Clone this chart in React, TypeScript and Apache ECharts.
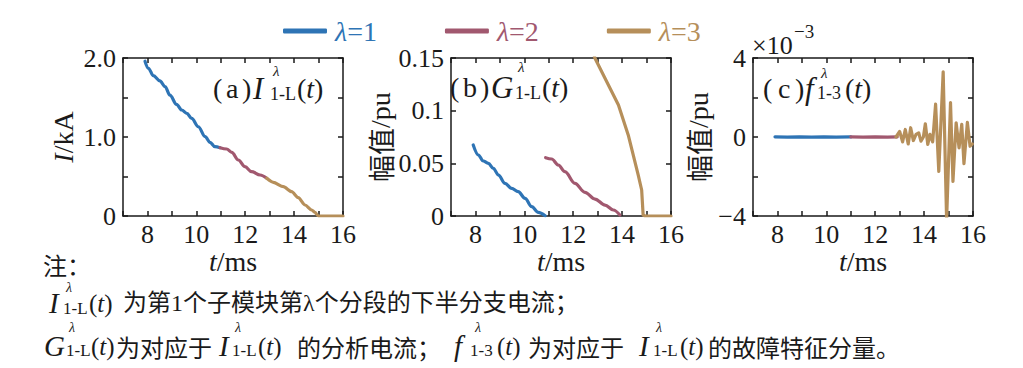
import React, { useEffect, useRef } from "react";
import * as echarts from "echarts";

const SERIF = "'Liberation Serif', 'Times New Roman', serif";
const MIXED = "'Liberation Serif', 'Noto Sans CJK SC', serif";
const CJK = "'Noto Sans CJK SC', 'Liberation Serif', sans-serif";
const INK = "#1a1a1a";

// ---- legend / series ----
const seriesNames = ["λ=1", "λ=2", "λ=3"];
const seriesColors = ["#2e74b5", "#a1586f", "#b68f5a"];

// ---- shared x axis (t / ms) ----
const xMin = 7;
const xMax = 16;
const xInterval = 1;
const xLabelValues = [8, 10, 12, 14, 16];

// ---- panel (a): I / kA ----
const aLambda1 = [
  [7.9, 1.96], [8.04, 1.87], [8.24, 1.776], [8.51, 1.71], [8.72, 1.637],
  [8.92, 1.53], [9.19, 1.414], [9.4, 1.342], [9.61, 1.3], [9.81, 1.235],
  [10.08, 1.13], [10.36, 1.004], [10.56, 0.932], [10.76, 0.877], [10.97, 0.865],
];
const aLambda2 = [
  [10.97, 0.865], [11.24, 0.848], [11.45, 0.806], [11.72, 0.709], [11.99, 0.624],
  [12.26, 0.561], [12.61, 0.519], [12.88, 0.477],
];
const aLambda3 = [
  [12.88, 0.477], [13.15, 0.426], [13.56, 0.371], [13.9, 0.308], [14.17, 0.232],
  [14.45, 0.139], [14.72, 0.076], [14.85, 0.046], [14.99, 0.0], [16, 0.0],
];
const aYTickLabels: [number, string][] = [[0, "0"], [1, "1.0"], [2, "2.0"]];

// ---- panel (b): amplitude / pu ----
const bLambda1 = [
  [7.91, 0.0674], [8.12, 0.0579], [8.32, 0.0522], [8.53, 0.05], [8.73, 0.0453],
  [8.94, 0.0389], [9.21, 0.031], [9.48, 0.0262], [9.75, 0.0231], [10.03, 0.0168],
  [10.3, 0.0089], [10.57, 0.0035], [10.85, 0.0003],
];
const bLambda2 = [
  [10.87, 0.0554], [11.12, 0.0541], [11.39, 0.0484], [11.66, 0.0421], [12.07, 0.031],
  [12.48, 0.0225], [12.89, 0.0161], [13.3, 0.0104], [13.64, 0.0057], [13.91, 0.0009],
];
const bLambda3 = [
  [12.82, 0.156], [12.89, 0.1497], [13.3, 0.1307], [13.85, 0.1054], [14.25, 0.077],
  [14.66, 0.0389], [14.8, 0.0247], [14.86, 0.0009], [14.94, 0.0], [16, 0.0],
];
const bYTickLabels: [number, string][] = [[0, "0"], [0.05, "0.05"], [0.1, "0.1"], [0.15, "0.15"]];

// ---- panel (c): amplitude / pu, values in units of 1e-3 ----
const cLambda1 = [
  [7.9, 0.01], [8.4, -0.005], [8.9, 0.01], [9.4, -0.005], [9.9, 0.01], [10.4, -0.005], [11.0, 0.005],
];
const cLambda2 = [
  [11.0, 0.005], [11.5, -0.01], [12.0, 0.01], [12.5, -0.005], [12.9, 0.01],
];
const cLambda3 = [
  [12.85, 0], [13.0, 0.28], [13.12, -0.25], [13.23, 0.38], [13.35, -0.35], [13.45, 0.47],
  [13.56, -0.18], [13.67, 0.13], [13.78, 0.21], [13.87, -0.21], [13.97, 0.0], [14.05, 0.67],
  [14.15, -0.38], [14.24, 0.13], [14.35, -0.25], [14.47, 1.66], [14.6, -1.74], [14.78, 3.3],
  [14.92, -4.2], [15.08, 1.74], [15.18, -2.25], [15.31, 0.72], [15.43, -0.55], [15.54, 0.64],
  [15.63, -1.35], [15.77, 0.74], [15.88, -0.47], [15.97, -0.35],
];
const cYTickLabels: [number, string][] = [[-4, "\u22124"], [0, "0"], [4, "4"]];

const panels = [
  {
    left: 123, yMin: 0, yMax: 2, yInterval: 0.5, yLabels: aYTickLabels,
    yName: "{i|I}{n|/kA}", yNameGap: 46, data: [aLambda1, aLambda2, aLambda3],
    smooth: [0.35, 0.35, 0.25],
  },
  {
    left: 451, yMin: 0, yMax: 0.15, yInterval: 0.05, yLabels: bYTickLabels,
    yName: "{c|幅值}{n|/pu}", yNameGap: 56, data: [bLambda1, bLambda2, bLambda3],
    smooth: [0.35, 0.35, 0],
  },
  {
    left: 753, yMin: -4, yMax: 4, yInterval: 2, yLabels: cYTickLabels,
    yName: "{c|幅值}{n|/pu}", yNameGap: 41, data: [cLambda1, cLambda2, cLambda3],
    smooth: [0, 0, 0],
  },
];

const GRID_TOP = 58;
const GRID_H = 158;
const GRID_W = 220;

const lookup = (pairs: [number, string][]) => (v: number) => {
  const hit = pairs.find((p) => Math.abs(p[0] - v) < 1e-9);
  return hit ? hit[1] : "";
};

const axisLineStyle = { color: INK, width: 1.5 };
const nameRich = {
  i: { fontFamily: SERIF, fontSize: 28, fontStyle: "italic", color: INK },
  n: { fontFamily: SERIF, fontSize: 28, color: INK },
  c: { fontFamily: CJK, fontSize: 27, color: INK },
};

const txt = (x: number, y: number, text: string, fs = 28, italic = false, family = SERIF) => ({
  type: "text",
  x,
  y,
  silent: true,
  style: {
    text,
    fontSize: fs,
    fontFamily: family,
    fontStyle: italic ? "italic" : "normal",
    fill: INK,
    align: "left",
    verticalAlign: "middle",
    textAlign: "left",
    textVerticalAlign: "middle",
  },
});

const paren = (x: number, y: number, fs = 28) => ({
  type: "text",
  x,
  y,
  silent: true,
  style: {
    text: "{n|(}{i|t}{n|)}",
    fill: INK,
    fontSize: fs,
    fontFamily: SERIF,
    align: "left",
    verticalAlign: "middle",
    textAlign: "left",
    textVerticalAlign: "middle",
    rich: {
      n: { fontSize: fs, fontFamily: SERIF, fill: INK, color: INK },
      i: { fontSize: fs, fontFamily: SERIF, fontStyle: "italic", fill: INK, color: INK },
    },
  },
});

// symbol like X^λ_{sub}(t)
const sym = (
  xb: number, xs: number, xsub: number, xp: number, y: number,
  base: string, sub: string, fs: number, fsP: number, fsSup: number, fsSub: number,
  dSup: number, dSub: number
) => [
  txt(xb, y, base, fs, true),
  txt(xs, y + dSup, "λ", fsSup, true),
  txt(xsub, y + dSub, sub, fsSub),
  paren(xp, y, fsP),
];

function buildOption() {
  const grid = panels.map((p) => ({ left: p.left, top: GRID_TOP, width: GRID_W, height: GRID_H }));
  const xAxis: any[] = [];
  const yAxis: any[] = [];
  panels.forEach((p, i) => {
    xAxis.push({
      type: "value", gridIndex: i, min: xMin, max: xMax, interval: xInterval, position: "bottom",
      axisLine: { show: true, onZero: false, lineStyle: axisLineStyle },
      axisTick: { show: true, inside: true, length: 5, lineStyle: axisLineStyle },
      axisLabel: {
        fontFamily: SERIF, fontSize: 26, color: INK, margin: 5,
        formatter: (v: number) => (xLabelValues.includes(v) ? String(v) : ""),
      },
      splitLine: { show: false },
      name: "{i|t}{n|/ms}", nameLocation: "middle", nameGap: 29,
      nameTextStyle: { rich: nameRich },
    });
    yAxis.push({
      type: "value", gridIndex: i, min: p.yMin, max: p.yMax, interval: p.yInterval, position: "left",
      axisLine: { show: true, onZero: false, lineStyle: axisLineStyle },
      axisTick: { show: true, inside: true, length: 5, lineStyle: axisLineStyle },
      axisLabel: {
        fontFamily: SERIF, fontSize: 26, color: INK, margin: 7,
        formatter: lookup(p.yLabels),
      },
      splitLine: { show: false },
      name: p.yName, nameLocation: "middle", nameGap: p.yNameGap, nameRotate: 90,
      nameTextStyle: { rich: nameRich },
    });
  });
  // mirrored frame axes (top / right)
  panels.forEach((p, i) => {
    xAxis.push({
      type: "value", gridIndex: i, min: xMin, max: xMax, interval: xInterval, position: "top",
      axisLine: { show: true, onZero: false, lineStyle: axisLineStyle },
      axisTick: { show: true, inside: true, length: 5, lineStyle: axisLineStyle },
      axisLabel: { show: false }, splitLine: { show: false },
    });
    yAxis.push({
      type: "value", gridIndex: i, min: p.yMin, max: p.yMax, interval: p.yInterval, position: "right",
      axisLine: { show: true, onZero: false, lineStyle: axisLineStyle },
      axisTick: { show: true, inside: true, length: 5, lineStyle: axisLineStyle },
      axisLabel: { show: false }, splitLine: { show: false },
    });
  });

  const series: any[] = [];
  panels.forEach((p, i) => {
    p.data.forEach((d, j) => {
      series.push({
        type: "line", name: seriesNames[j], xAxisIndex: i, yAxisIndex: i, data: d,
        color: seriesColors[j], symbol: "none", showSymbol: false,
        smooth: p.smooth[j] || false, smoothMonotone: "x", clip: true,
        lineStyle: { color: seriesColors[j], width: 3.2, cap: "round", join: "round" },
        z: 2 + j,
      });
    });
  });

  const legendRich: any = {};
  seriesColors.forEach((c, k) => {
    legendRich["l" + k] = { fontFamily: SERIF, fontSize: 28, fontStyle: "italic", color: c };
    legendRich["e" + k] = { fontFamily: SERIF, fontSize: 28, color: c };
  });

  const graphic: any[] = [
    // (a) annotation
    txt(213, 88, "(", 28), txt(226, 88, "a", 28), txt(242, 88, ")", 28),
    ...sym(253, 273, 270, 297, 88, "I", "1-L", 31, 28, 15, 18, -17, 6),
    // (b) annotation
    txt(450, 87, "(", 28), txt(463, 87, "b", 28), txt(480, 87, ")", 28),
    ...sym(491, 518, 515, 542, 87, "G", "1-L", 31, 28, 15, 18, -20, 6),
    // (c) annotation
    txt(763, 88, "(", 28), txt(778, 88, "c", 28), txt(795, 88, ")", 28),
    ...sym(805, 821, 817, 845, 88, "f", "1-3", 31, 28, 15, 18, -15, 5),
    // exponent of panel (c)
    txt(752, 45, "×10", 26), txt(794, 31, "\u22123", 19),
    // notes
    txt(43, 264, "注：", 24, false, CJK),
    ...sym(49, 66, 63, 89, 303, "I", "1-L", 29, 25, 14, 17, -16, 5),
    txt(123, 303, "为第1个子模块第λ个分段的下半分支电流；", 24, false, MIXED),
    ...sym(44, 69, 66, 91, 346, "G", "1-L", 29, 25, 14, 17, -19, 4),
    txt(116, 346, "为对应于", 24, false, CJK),
    ...sym(219, 235, 232, 258, 346, "I", "1-L", 29, 25, 14, 17, -19, 4),
    txt(297, 346, "的分析电流；", 24, false, CJK),
    ...sym(454, 475, 470, 497, 346, "f", "1-3", 29, 25, 14, 17, -19, 4),
    txt(528, 346, "为对应于", 24, false, CJK),
    ...sym(639, 656, 653, 680, 346, "I", "1-L", 29, 25, 14, 17, -19, 4),
    txt(708, 346, "的故障特征分量。", 24, false, CJK),
  ];

  return {
    animation: false,
    backgroundColor: "#ffffff",
    grid,
    xAxis,
    yAxis,
    series,
    legend: {
      left: 283, top: 17, padding: 0, itemWidth: 44, itemHeight: 5, icon: "roundRect", itemGap: 68,
      data: seriesNames.map((n, k) => ({ name: n, itemStyle: { color: seriesColors[k] } })),
      formatter: (name: string) => {
        const k = seriesNames.indexOf(name);
        return `{l${k}|λ}{e${k}|${name.slice(1)}}`;
      },
      textStyle: { fontFamily: SERIF, fontSize: 28, padding: [0, 0, 0, 3], rich: legendRich },
    },
    graphic,
  };
}

export default function App() {
  const ref = useRef<HTMLDivElement>(null);
  useEffect(() => {
    if (!ref.current) return;
    const chart = echarts.init(ref.current, undefined, { renderer: "svg" });
    chart.setOption(buildOption() as any);
    return () => chart.dispose();
  }, []);
  return (
    <div
      ref={ref}
      style={{ position: "absolute", left: 0, top: 0, width: 1023, height: 368, background: "#fff" }}
    />
  );
}
